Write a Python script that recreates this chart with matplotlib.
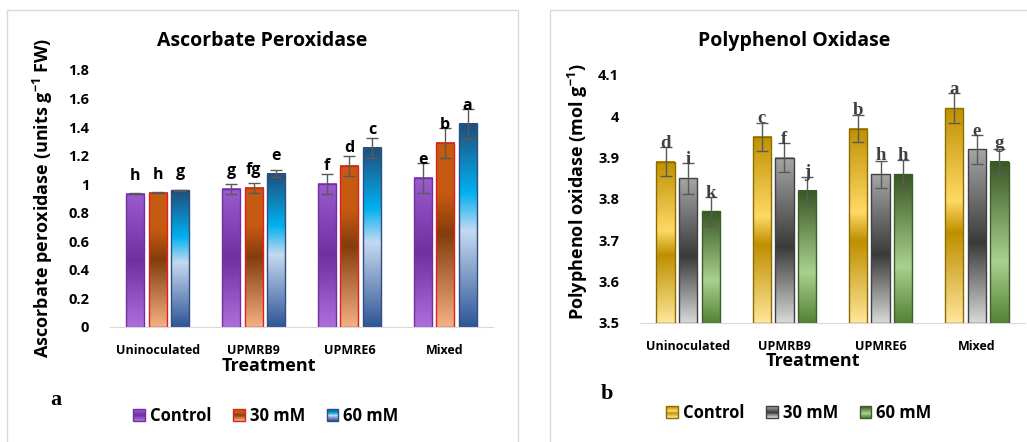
import numpy as np
import matplotlib
matplotlib.use("Agg")
import matplotlib.pyplot as plt
from matplotlib.colors import LinearSegmentedColormap
from matplotlib.patches import Rectangle
from matplotlib.legend_handler import HandlerBase
from matplotlib.ticker import FuncFormatter, MultipleLocator

SANS = ["Open Sans", "Liberation Sans", "DejaVu Sans"]
SERIF = ["Liberation Serif", "DejaVu Serif"]
plt.rcParams["font.family"] = SANS
plt.rcParams["font.weight"] = "bold"
plt.rcParams["mathtext.default"] = "bf"
plt.rcParams["mathtext.fontset"] = "custom"
plt.rcParams["mathtext.bf"] = "Open Sans:bold"

# ===============================
# data
# ===============================
treatments = ["Uninoculated", "UPMRB9", "UPMRE6", "Mixed"]
series = ["Control", "30 mM", "60 mM"]

# Ascorbate peroxidase (units g-1 FW)
apx_control = [0.935, 0.967, 1.002, 1.047]
apx_30 = [0.942, 0.977, 1.128, 1.290]
apx_60 = [0.958, 1.075, 1.255, 1.423]
apx_err_control = [0.005, 0.035, 0.07, 0.105]
apx_err_30 = [0.005, 0.035, 0.07, 0.105]
apx_err_60 = [0.005, 0.023, 0.07, 0.105]
apx_letters_control = ["h", "g", "f", "e"]
apx_letters_30 = ["h", "fg", "d", "b"]
apx_letters_60 = ["g", "e", "c", "a"]

# Polyphenol oxidase (mol g-1)
ppo_control = [3.89, 3.95, 3.97, 4.02]
ppo_30 = [3.85, 3.90, 3.86, 3.92]
ppo_60 = [3.77, 3.82, 3.86, 3.89]
ppo_err_control = [0.035, 0.035, 0.033, 0.037]
ppo_err_30 = [0.037, 0.035, 0.033, 0.035]
ppo_err_60 = [0.035, 0.033, 0.035, 0.03]
ppo_letters_control = ["d", "c", "b", "a"]
ppo_letters_30 = ["i", "f", "h", "e"]
ppo_letters_60 = ["k", "j", "h", "g"]

# gradient stops (bottom -> top)
grad_purple = [(0, "#ac70dc"), (0.5, "#7030a0"), (1, "#9c5ccf")]
grad_orange = [(0, "#f4b183"), (0.5, "#843c0c"), (0.72, "#c55a11"), (1, "#c55a11")]
grad_blue = [(0, "#2f5597"), (0.47, "#c5d9f0"), (0.66, "#00b0f0"), (1, "#1f4e79")]
grad_gold = [(0, "#ffe699"), (0.42, "#bf8f00"), (0.57, "#ffd966"), (1, "#bf9000")]
grad_gray = [(0, "#d9d9d9"), (0.46, "#3a3a3a"), (1, "#a6a6a6")]
grad_green = [(0, "#548235"), (0.38, "#a9d18e"), (1, "#385723")]

W = 0.19
OFFS = [-0.235, 0, 0.235]


def make_cmap(stops):
    return LinearSegmentedColormap.from_list("g", stops)


class HandlerGradient(HandlerBase):
    def __init__(self, stops, edge):
        super().__init__()
        self.cmap = make_cmap(stops)
        self.edge = edge

    def create_artists(self, legend, orig_handle, xdescent, ydescent,
                       width, height, fontsize, trans):
        arts = []
        n = 12
        s = height * 1.0
        x0 = -xdescent + width - s
        y0 = -ydescent
        for i in range(n):
            r = Rectangle((x0, y0 + s * i / n), s, s / n,
                          facecolor=self.cmap(i / (n - 1)), edgecolor="none",
                          transform=trans)
            arts.append(r)
        arts.append(Rectangle((x0, y0), s, s, facecolor="none",
                              edgecolor=self.edge, lw=1.0, transform=trans))
        return arts


def grad_bars(ax, xs, vals, errs, letters, stops, edge, base, lfont, lsize, lcolor):
    cmap = make_cmap(stops)
    g = np.linspace(0, 1, 256).reshape(-1, 1)
    for x, v in zip(xs, vals):
        ax.imshow(g, cmap=cmap, extent=[x - W / 2, x + W / 2, base, v],
                  origin="lower", aspect="auto", interpolation="bilinear",
                  zorder=2)
    ax.bar(xs, np.array(vals) - base, W, bottom=base, facecolor="none",
           edgecolor=edge, lw=1.0, zorder=3)
    ax.errorbar(xs, vals, yerr=errs, fmt="none", ecolor="#595959",
                elinewidth=1.0, capsize=4, capthick=1.0, zorder=4)
    for x, v, t in zip(xs, vals, letters):
        ax.annotate(t, (x, v), xytext=(0, 10), textcoords="offset points",
                    ha="center", va="baseline", fontsize=lsize,
                    fontweight="bold", family=lfont, color=lcolor, zorder=5)


def style_axes(ax, ylim, step):
    ax.set_xlim(-0.5, 3.5)
    ax.set_ylim(*ylim)
    ax.yaxis.set_major_locator(MultipleLocator(step))
    ax.yaxis.set_major_formatter(FuncFormatter(lambda v, p: "%g" % round(v, 2)))
    for s in ["top", "right", "left"]:
        ax.spines[s].set_visible(False)
    ax.spines["bottom"].set_color("#d9d9d9")
    ax.tick_params(length=0)
    ax.tick_params(axis="y", labelsize=10.5, pad=15)
    ax.tick_params(axis="x", labelsize=9, pad=12)
    ax.set_xticks(range(len(treatments)))
    ax.set_xticklabels(treatments)


fig = plt.figure(figsize=(10.27, 4.42), dpi=100)

# panel borders
fig.patches.append(Rectangle((7 / 1027, -0.1), 511 / 1027, 1.1 - 10 / 442,
                             transform=fig.transFigure, facecolor="none",
                             edgecolor="#d9d9d9", lw=1.0))
fig.patches.append(Rectangle((550 / 1027, -0.1), 0.6, 1.1 - 10 / 442,
                             transform=fig.transFigure, facecolor="none",
                             edgecolor="#d9d9d9", lw=1.0))

x = np.arange(len(treatments))

# ===============================
# a : Ascorbate Peroxidase
# ===============================
ax1 = fig.add_axes([110 / 1027, 115 / 442, 383 / 1027, 257 / 442])
apx = [(apx_control, apx_err_control, apx_letters_control, grad_purple, "#7030a0"),
       (apx_30, apx_err_30, apx_letters_30, grad_orange, "#e02020"),
       (apx_60, apx_err_60, apx_letters_60, grad_blue, "#2f4f80")]
for i, (v, e, l, st, ed) in enumerate(apx):
    grad_bars(ax1, x + OFFS[i], v, e, l, st, ed, 0, SANS, 11.5, "black")
style_axes(ax1, (0, 1.8), 0.2)
fig.text(262 / 1027, 1 - 41 / 442, "Ascorbate Peroxidase", fontsize=14,
         ha="center", va="center")
fig.text(43 / 1027, 1 - 198 / 442, "Ascorbate peroxidase (units g$^{-1}$ FW)",
         fontsize=13, rotation=90, ha="center", va="center")
fig.text(269 / 1027, 1 - 366 / 442, "Treatment", fontsize=13,
         ha="center", va="center")
h1 = [Rectangle((0, 0), 1, 1) for _ in series]
fig.legend(h1, series, loc="center", bbox_to_anchor=(265 / 1027, 26 / 442),
           ncol=3, frameon=False, prop={"weight": "bold", "size": 12},
           handlelength=0.8, handletextpad=0.3, columnspacing=1.2,
           handler_map={h1[0]: HandlerGradient(grad_purple, "#7030a0"),
                        h1[1]: HandlerGradient(grad_orange, "#e02020"),
                        h1[2]: HandlerGradient(grad_blue, "#2f4f80")})
fig.text(56 / 1027, 1 - 400 / 442, "a", family=SERIF,
         fontsize=16, ha="center", va="center")

# ===============================
# b : Polyphenol Oxidase
# ===============================
ax2 = fig.add_axes([640 / 1027, 119 / 442, 385 / 1027, 248 / 442])
ppo = [(ppo_control, ppo_err_control, ppo_letters_control, grad_gold, "#8a6d00"),
       (ppo_30, ppo_err_30, ppo_letters_30, grad_gray, "#404040"),
       (ppo_60, ppo_err_60, ppo_letters_60, grad_green, "#3a5f28")]
for i, (v, e, l, st, ed) in enumerate(ppo):
    grad_bars(ax2, x + OFFS[i], v, e, l, st, ed, 3.5, SERIF, 13.5, "#404040")
style_axes(ax2, (3.5, 4.1), 0.1)
fig.text(794 / 1027, 1 - 41 / 442, "Polyphenol Oxidase", fontsize=14,
         ha="center", va="center")
fig.text(578 / 1027, 1 - 192 / 442, "Polyphenol oxidase (mol g$^{-1}$)",
         fontsize=13, rotation=90, ha="center", va="center")
fig.text(813 / 1027, 1 - 361 / 442, "Treatment", fontsize=13,
         ha="center", va="center")
h2 = [Rectangle((0, 0), 1, 1) for _ in series]
fig.legend(h2, series, loc="center", bbox_to_anchor=(798 / 1027, 29 / 442),
           ncol=3, frameon=False, prop={"weight": "bold", "size": 12},
           handlelength=0.8, handletextpad=0.3, columnspacing=1.2,
           handler_map={h2[0]: HandlerGradient(grad_gold, "#8a6d00"),
                        h2[1]: HandlerGradient(grad_gray, "#404040"),
                        h2[2]: HandlerGradient(grad_green, "#3a5f28")})
fig.text(607 / 1027, 1 - 394 / 442, "b", family=SERIF,
         fontsize=16, ha="center", va="center")

fig.savefig("out.png", dpi=100)
